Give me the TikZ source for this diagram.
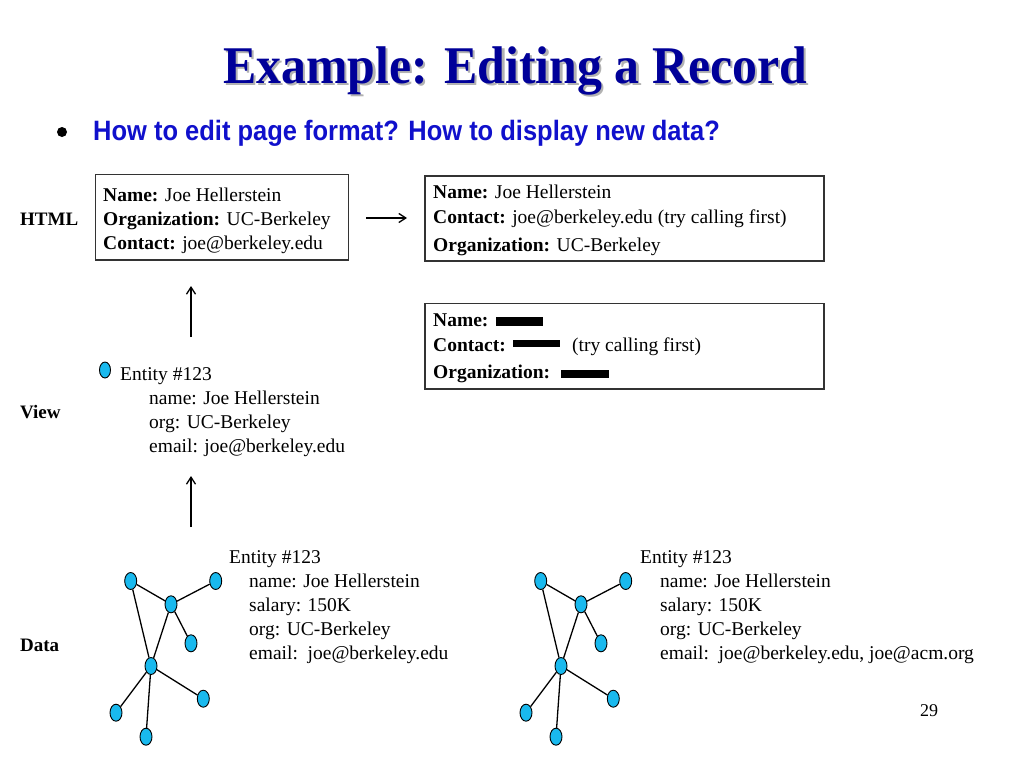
\documentclass[tikz,border=0pt]{standalone}
\usepackage{fontspec}
\setmainfont{Liberation Serif}
\newfontfamily\subfont[FakeStretch=0.91]{Liberation Sans}
\newfontfamily\titlefont[FakeStretch=0.94]{Liberation Serif}
\usetikzlibrary{arrows.meta,shapes.geometric}
\definecolor{titleblue}{HTML}{000099}
\definecolor{subblue}{HTML}{1010CC}
\definecolor{nodecyan}{HTML}{19B9EE}
\newcommand{\shadowtext}[1]{\makebox[0pt][l]{\hspace{2.5pt}\raisebox{-2.5pt}{\color{black!30}#1}}#1}
\tikzset{
  x=1pt, y=-1pt,
  txt/.style={anchor=base west, inner sep=0pt, font=\fontsize{19.5}{23}\selectfont},
  lbl/.style={anchor=base west, inner sep=0pt, font=\fontsize{19}{23}\selectfont\bfseries},
  recbox/.style={draw=black!80, line width=1.1pt},
  bar/.style={fill=black},
  uparrow/.style={-{Straight Barb[length=7pt,width=9pt]}, line width=1.3pt},
  gnode/.style={ellipse, draw=black, fill=nodecyan, line width=0.9pt, minimum width=12pt, minimum height=17pt, inner sep=0pt},
  gedge/.style={line width=1.3pt},
}
\begin{document}
\begin{tikzpicture}
\useasboundingbox[fill=white] (0,0) rectangle (1024,768);
% title
\node[anchor=base, inner sep=0pt, text=titleblue, font=\fontsize{53}{58}\titlefont\bfseries] (title) at (515,83) {\shadowtext{Example: Editing a Record}};
% bullet
\fill (62,132) circle (5) coordinate (bullet);
\node[anchor=base west, inner sep=0pt, text=subblue, font=\fontsize{28}{32}\subfont\bfseries] (sub) at (93,140) {How to edit page format? How to display new data?};
% row labels
\node[lbl] (lhtml) at (20,225) {HTML};
\node[lbl] (lview) at (20,418) {View};
\node[lbl] (ldata) at (20,651) {Data};
% box 1
\draw[recbox] (95.5,174.5) rectangle (348.5,260) coordinate (b1);
\node[txt] (b1a) at (103,201) {\textbf{Name:} Joe Hellerstein};
\node[txt] (b1b) at (103,225) {\textbf{Organization:} UC-Berkeley};
\node[txt] (b1c) at (103,249) {\textbf{Contact:} joe@berkeley.edu};
% arrow right
\coordinate (ra) at (366,218);
\coordinate (rb) at (407,218);
\draw[uparrow] (ra) -- (rb);
% box 2
\draw[recbox] (425,176) rectangle (824,261);
\node[txt] (b2a) at (433,198) {\textbf{Name:} Joe Hellerstein};
\node[txt] (b2b) at (433,223) {\textbf{Contact:} joe@berkeley.edu (try calling first)};
\node[txt] (b2c) at (433,251) {\textbf{Organization:} UC-Berkeley};
% box 3
\draw[recbox] (425,303.5) rectangle (824,389);
\node[txt] (b3a) at (433,326) {\textbf{Name:}};
\node[txt] (b3b) at (433,351.5) {\textbf{Contact:}};
\node[txt] (b3bb) at (572,351.5) {(try calling first)};
\node[txt] (b3c) at (433,378.5) {\textbf{Organization:}};
\fill[bar] (496,316.5) rectangle (543,326);
\fill[bar] (512.5,339.5) rectangle (560,347);
\fill[bar] (561,369.5) rectangle (608.5,377.5);
% up arrows
\coordinate (u1a) at (191,337);
\coordinate (u1b) at (191,286);
\coordinate (u2a) at (191,527);
\coordinate (u2b) at (191,476);
\draw[uparrow] (u1a) -- (u1b);
\draw[uparrow] (u2a) -- (u2b);
% view
\node[gnode, minimum width=11pt, minimum height=16pt] (ve) at (105,370) {};
\node[txt] (v1) at (120,380) {Entity \#123};
\node[txt] (v2) at (149,404) {name: Joe Hellerstein};
\node[txt] (v3) at (149,428) {org: UC-Berkeley};
\node[txt] (v4) at (149,452) {email: joe@berkeley.edu};
% graphs
\foreach \s/\p in {0/a,410/b}{
  \begin{scope}[xshift=\s]
  \node[gnode] (\p1) at (130.7,581) {};
  \node[gnode] (\p2) at (215.7,581) {};
  \node[gnode] (\p3) at (171,604.3) {};
  \node[gnode] (\p4) at (191,643.3) {};
  \node[gnode] (\p5) at (151,666) {};
  \node[gnode] (\p6) at (203.3,698.7) {};
  \node[gnode] (\p7) at (116,712.7) {};
  \node[gnode] (\p8) at (146,736.7) {};
  \draw[gedge] (\p1) -- (\p3);
  \draw[gedge] (\p3) -- (\p2);
  \draw[gedge] (\p3) -- (\p4);
  \draw[gedge] (\p1) -- (\p5);
  \draw[gedge] (\p3) -- (\p5);
  \draw[gedge] (\p5) -- (\p6);
  \draw[gedge] (\p5) -- (\p7);
  \draw[gedge] (\p5) -- (\p8);
  \end{scope}
}
\node[txt] (d1) at (229,563) {Entity \#123};
\node[txt] (d2) at (249,587) {name: Joe Hellerstein};
\node[txt] (d3) at (249,611) {salary: 150K};
\node[txt] (d4) at (249,635) {org: UC-Berkeley};
\node[txt] (d5) at (249,659) {email:\ \ joe@berkeley.edu};
\node[txt] (e1) at (640,563) {Entity \#123};
\node[txt] (e2) at (660,587) {name: Joe Hellerstein};
\node[txt] (e3) at (660,611) {salary: 150K};
\node[txt] (e4) at (660,635) {org: UC-Berkeley};
\node[txt] (e5) at (660,659) {email:\ \ joe@berkeley.edu, joe@acm.org};
% page number
\node[anchor=base west, inner sep=0pt, font=\fontsize{18}{22}\selectfont] (pg) at (920,716) {29};
\end{tikzpicture}
\end{document}
